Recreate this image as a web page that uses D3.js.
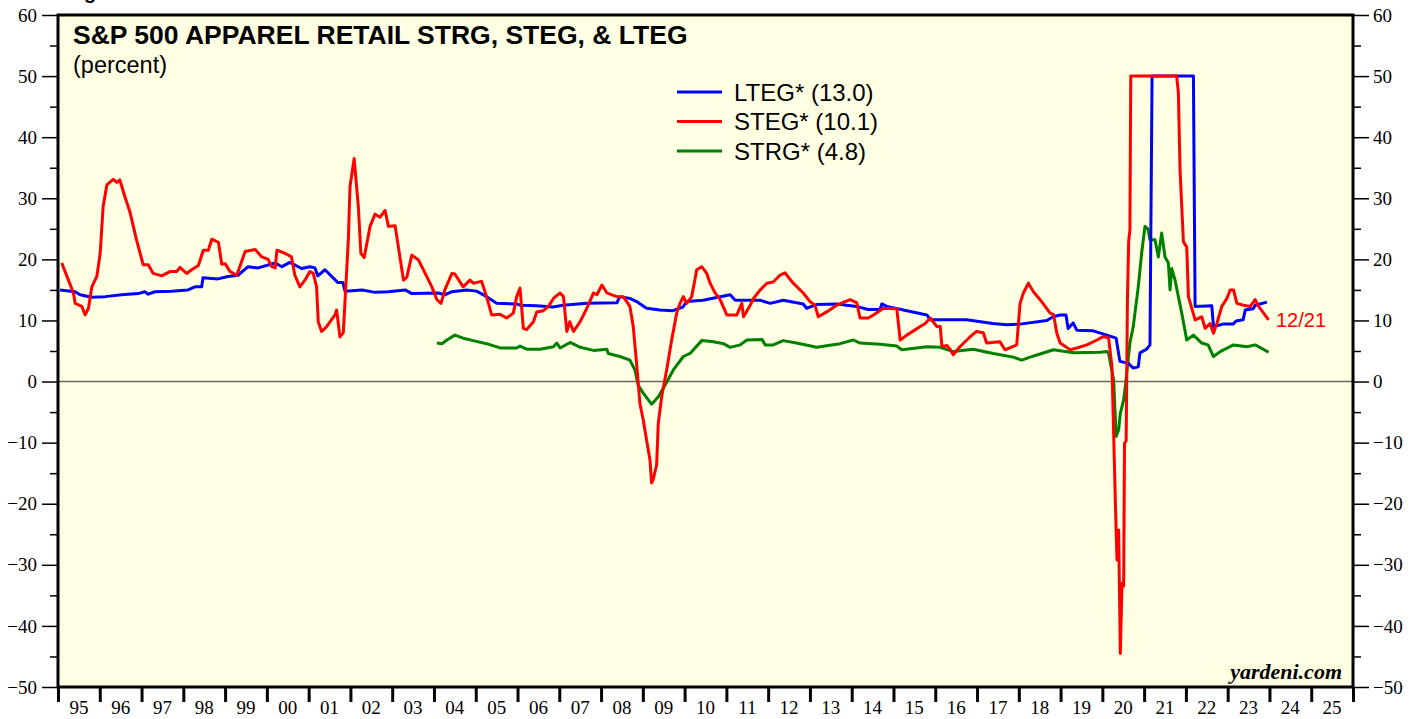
<!DOCTYPE html>
<html>
<head>
<meta charset="utf-8">
<script src="https://cdn.jsdelivr.net/npm/d3@7"></script>
<style>
  body { margin: 0; background: #fff; }
  svg { display: block; }
</style>
</head>
<body>
<svg id="chart" width="1419" height="719"></svg>
<script>
// ---- data (decimal year, percent) ----
const yearLabels = ['95','96','97','98','99','00','01','02','03','04','05','06','07','08','09','10',
  '11','12','13','14','15','16','17','18','19','20','21','22','23','24','25'];

const lteg = [
  [1995.05,15.0],[1995.41,14.7],[1995.53,14.2],[1995.81,13.8],[1996.13,13.9],[1996.52,14.2],
  [1996.92,14.4],[1997.08,14.7],[1997.16,14.3],[1997.32,14.7],[1997.72,14.8],[1998.11,15.0],
  [1998.28,15.5],[1998.44,15.5],[1998.47,17.0],[1998.83,16.8],[1999.07,17.2],[1999.31,17.4],
  [1999.55,18.8],[1999.79,18.6],[2000.20,19.4],[2000.36,18.8],[2000.55,19.5],[2000.83,18.5],
  [2001.03,18.8],[2001.15,18.6],[2001.22,17.3],[2001.39,18.3],[2001.70,16.2],[2001.82,16.2],
  [2001.87,14.8],[2002.28,15.0],[2002.59,14.6],[2002.90,14.7],[2003.31,15.0],[2003.47,14.4],
  [2004.10,14.5],[2004.26,14.2],[2004.43,14.7],[2004.78,15.0],[2005.02,14.8],[2005.26,13.9],
  [2005.50,12.8],[2005.98,12.7],[2006.06,12.5],[2006.46,12.4],[2006.85,12.2],[2007.09,12.5],
  [2007.66,12.8],[2008.38,12.9],[2008.45,13.9],[2008.69,13.6],[2008.85,13.1],[2009.09,12.0],
  [2009.41,11.7],[2009.72,11.6],[2009.96,12.2],[2010.05,13.1],[2010.44,13.3],[2011.09,14.2],
  [2011.21,13.3],[2011.81,13.3],[2012.05,12.8],[2012.36,13.3],[2012.84,12.7],[2012.92,12.0],
  [2013.16,12.6],[2013.64,12.7],[2014.12,12.3],[2014.39,11.8],[2014.68,11.8],[2014.72,12.7],
  [2014.84,12.3],[2015.32,11.6],[2015.80,10.9],[2015.88,10.1],[2016.75,10.1],[2017.38,9.5],
  [2017.71,9.3],[2018.03,9.4],[2018.67,10.0],[2018.82,10.6],[2018.99,10.9],[2019.13,10.9],
  [2019.18,8.7],[2019.30,9.6],[2019.39,8.4],[2019.78,8.3],[2020.11,7.6],[2020.33,7.1],
  [2020.42,3.3],[2020.62,3.0],[2020.74,2.2],[2020.86,2.4],[2020.90,4.7],[2021.06,5.3],
  [2021.14,6.0],[2021.19,50],[2022.18,50],[2022.22,12.3],[2022.62,12.4],[2022.66,9.0],
  [2022.89,9.4],[2023.13,9.4],[2023.20,9.9],[2023.37,10.1],[2023.42,11.7],[2023.61,11.9],
  [2023.66,12.5],[2023.94,13.0]
];

const steg = [
  [1995.09,19.4],[1995.25,16.6],[1995.37,14.5],[1995.41,12.8],[1995.57,12.3],[1995.65,10.9],
  [1995.73,12.0],[1995.81,15.5],[1995.93,17.2],[1996.01,21.0],[1996.08,28.6],[1996.17,32.2],
  [1996.32,33.1],[1996.41,32.6],[1996.48,33.0],[1996.60,30.3],[1996.72,27.8],[1996.88,23.2],
  [1997.04,19.1],[1997.16,19.1],[1997.28,17.7],[1997.48,17.3],[1997.68,18.0],[1997.84,18.0],
  [1997.92,18.7],[1998.08,17.7],[1998.20,18.3],[1998.36,19.0],[1998.48,21.5],[1998.60,21.5],
  [1998.68,23.3],[1998.84,22.8],[1998.92,19.2],[1999.00,19.3],[1999.12,18.0],[1999.28,17.4],
  [1999.48,21.3],[1999.72,21.6],[1999.88,20.4],[2000.03,20.0],[2000.12,18.8],[2000.20,18.6],
  [2000.24,21.5],[2000.43,21.0],[2000.59,20.4],[2000.67,17.4],[2000.79,15.5],[2000.91,16.6],
  [2001.03,18.0],[2001.11,17.7],[2001.19,15.5],[2001.23,9.8],[2001.31,8.2],[2001.43,9.0],
  [2001.63,10.9],[2001.67,11.7],[2001.75,7.3],[2001.83,8.0],[2001.95,23.2],[2001.99,31.9],
  [2002.09,36.5],[2002.19,28.6],[2002.25,21.0],[2002.33,20.3],[2002.47,25.4],[2002.59,27.4],
  [2002.71,26.9],[2002.83,28.0],[2002.91,25.4],[2003.07,25.5],[2003.27,16.6],[2003.35,17.1],
  [2003.47,20.7],[2003.63,19.9],[2003.79,17.7],[2003.95,15.5],[2004.07,13.4],[2004.17,12.8],
  [2004.26,15.0],[2004.43,17.7],[2004.50,17.6],[2004.70,15.5],[2004.86,16.6],[2004.94,16.1],
  [2005.14,16.4],[2005.26,13.9],[2005.38,10.9],[2005.58,11.0],[2005.74,10.4],[2005.90,11.2],
  [2005.98,13.9],[2006.06,15.3],[2006.14,8.7],[2006.22,8.5],[2006.38,9.8],[2006.46,11.4],
  [2006.62,11.6],[2006.74,12.3],[2006.86,13.6],[2007.02,14.5],[2007.10,13.9],[2007.18,8.2],
  [2007.25,9.8],[2007.34,8.2],[2007.50,9.8],[2007.66,12.0],[2007.82,14.5],[2007.90,14.2],
  [2008.02,15.8],[2008.14,14.5],[2008.26,14.2],[2008.38,13.9],[2008.53,13.9],[2008.69,12.3],
  [2008.77,9.0],[2008.85,3.0],[2008.93,-3.6],[2009.01,-6.3],[2009.09,-9.6],[2009.17,-12.8],
  [2009.21,-16.6],[2009.25,-16.0],[2009.33,-13.6],[2009.37,-6.8],[2009.45,-2.5],[2009.57,1.9],
  [2009.69,6.8],[2009.81,11.2],[2009.89,12.8],[2009.97,13.9],[2010.05,12.8],[2010.17,13.9],
  [2010.29,18.3],[2010.41,18.8],[2010.53,17.7],[2010.61,16.1],[2010.73,14.5],[2010.85,13.4],
  [2011.01,10.9],[2011.25,10.9],[2011.37,12.8],[2011.41,10.6],[2011.57,12.5],[2011.65,13.6],
  [2011.81,15.0],[2011.97,16.1],[2012.12,16.3],[2012.28,17.4],[2012.40,17.8],[2012.60,16.1],
  [2012.84,14.5],[2013.00,13.1],[2013.12,12.5],[2013.20,10.6],[2013.40,11.4],[2013.64,12.5],
  [2013.96,13.4],[2014.12,12.9],[2014.20,10.4],[2014.40,10.4],[2014.52,10.9],[2014.76,12.0],
  [2015.08,11.9],[2015.16,6.8],[2015.32,7.6],[2015.64,9.0],[2015.76,9.5],[2015.88,10.4],
  [2016.04,9.0],[2016.12,9.0],[2016.16,5.7],[2016.28,5.9],[2016.36,5.2],[2016.43,4.4],
  [2016.59,5.7],[2016.83,7.3],[2016.99,8.2],[2017.15,8.0],[2017.23,6.3],[2017.55,6.5],
  [2017.67,5.2],[2017.95,6.0],[2018.03,12.8],[2018.11,14.5],[2018.23,16.1],[2018.35,14.7],
  [2018.51,13.4],[2018.75,11.2],[2018.83,11.0],[2018.91,7.9],[2018.99,6.3],[2019.23,5.2],
  [2019.39,5.5],[2019.63,6.0],[2019.87,6.8],[2020.03,7.4],[2020.15,7.1],[2020.23,2.4],
  [2020.27,-8.5],[2020.31,-19.4],[2020.35,-29.2],[2020.39,-24.3],[2020.43,-44.5],[2020.47,-33.0],
  [2020.51,-33.5],[2020.53,-10.1],[2020.57,-9.7],[2020.60,13.4],[2020.63,23.0],[2020.66,24.8],
  [2020.68,50],[2021.78,50],[2021.82,47.2],[2021.86,34.6],[2021.94,22.9],[2022.02,22.0],
  [2022.06,13.9],[2022.22,10.1],[2022.38,10.6],[2022.46,8.7],[2022.58,9.5],[2022.66,7.9],
  [2022.74,9.5],[2022.86,12.3],[2022.98,13.6],[2023.06,15.0],[2023.14,15.0],[2023.22,12.8],
  [2023.38,12.5],[2023.54,12.3],[2023.66,13.4],[2023.74,12.3],[2023.86,11.2],[2023.98,10.1]
];

const strg = [
  [2004.07,6.3],[2004.19,6.2],[2004.31,6.8],[2004.50,7.6],[2004.70,7.1],[2004.94,6.7],
  [2005.26,6.2],[2005.58,5.5],[2005.98,5.5],[2006.06,5.8],[2006.22,5.3],[2006.54,5.3],
  [2006.86,5.7],[2006.94,6.3],[2007.02,5.5],[2007.26,6.4],[2007.50,5.6],[2007.82,5.1],
  [2008.14,5.3],[2008.17,4.6],[2008.45,4.1],[2008.69,3.5],[2008.81,1.9],[2008.89,-0.6],
  [2009.01,-1.9],[2009.21,-3.7],[2009.37,-2.5],[2009.53,-0.6],[2009.73,1.9],[2009.97,4.1],
  [2010.13,4.6],[2010.41,6.7],[2010.69,6.5],[2010.93,6.2],[2011.09,5.6],[2011.33,6.0],
  [2011.49,6.8],[2011.85,6.9],[2011.93,6.0],[2012.12,6.0],[2012.36,6.7],[2012.68,6.3],
  [2013.16,5.6],[2013.72,6.2],[2014.04,6.8],[2014.20,6.3],[2014.68,6.1],[2015.08,5.8],
  [2015.20,5.2],[2015.80,5.7],[2016.12,5.6],[2016.43,4.9],[2016.91,5.3],[2017.39,4.6],
  [2017.87,4.0],[2018.07,3.5],[2018.27,4.0],[2018.51,4.5],[2018.83,5.2],[2019.31,4.7],
  [2019.95,4.8],[2020.11,4.9],[2020.15,4.6],[2020.27,0.3],[2020.33,-9.0],[2020.39,-7.9],
  [2020.43,-5.2],[2020.51,-3.0],[2020.55,-0.8],[2020.66,6.3],[2020.74,9.0],[2020.86,15.5],
  [2020.94,21.0],[2021.02,25.4],[2021.09,25.0],[2021.14,23.2],[2021.26,23.2],[2021.34,20.4],
  [2021.42,24.3],[2021.50,20.4],[2021.58,19.4],[2021.62,15.0],[2021.66,18.5],[2021.74,16.6],
  [2021.82,13.9],[2021.90,11.2],[2022.02,6.8],[2022.18,7.6],[2022.38,6.3],[2022.53,6.0],
  [2022.66,4.1],[2022.82,4.9],[2023.14,6.0],[2023.46,5.7],[2023.66,6.0],[2023.98,4.8]
];

const legendItems = [
  { label: 'LTEG* (13.0)', color: '#0000ff' },
  { label: 'STEG* (10.1)', color: '#ff0000' },
  { label: 'STRG* (4.8)', color: '#008000' }
];

// ---- layout ----
const plotL = 58, plotR = 1353, plotT = 15, plotB = 687;
const svg = d3.select('#chart');

const x = d3.scaleLinear().domain([1995, 2026]).range([plotL, plotR]);
const y = d3.scaleLinear().domain([-50, 60]).range([plotB, plotT]);

// cut-off heading above the frame (only its descender shows, as in the source)
svg.append('text').attr('x', 84).attr('y', -1)
    .style('font', 'bold 20px "Liberation Sans", Arial, sans-serif').text('g');

svg.append('rect')
    .attr('x', plotL).attr('y', plotT)
    .attr('width', plotR - plotL).attr('height', plotB - plotT)
    .attr('fill', '#ffffe3');

svg.append('clipPath').attr('id', 'plot')
  .append('rect').attr('x', plotL).attr('y', plotT)
    .attr('width', plotR - plotL).attr('height', plotB - plotT);

// zero line
svg.append('line')
    .attr('x1', plotL).attr('x2', plotR)
    .attr('y1', y(0)).attr('y2', y(0))
    .attr('stroke', '#666').attr('stroke-width', 1.5);

// series
const line = d3.line().x(d => x(d[0])).y(d => y(d[1]));
const g = svg.append('g').attr('clip-path', 'url(#plot)');
[[strg, '#008000'], [lteg, '#0000ff'], [steg, '#ff0000']].forEach(([data, col]) => {
  g.append('path').datum(data)
      .attr('d', line)
      .attr('fill', 'none')
      .attr('stroke', col)
      .attr('stroke-width', 3)
      .attr('stroke-linejoin', 'round');
});

// frame
svg.append('rect')
    .attr('x', plotL).attr('y', plotT)
    .attr('width', plotR - plotL).attr('height', plotB - plotT)
    .attr('fill', 'none').attr('stroke', '#000').attr('stroke-width', 3);

// y axes
const serif = '"Liberation Serif", "Times New Roman", serif';
const yMajor = d3.range(-50, 61, 10);
const yMinor = d3.range(-45, 60, 10);

const yLeft = svg.append('g').attr('transform', `translate(${plotL},0)`)
    .call(d3.axisLeft(y).tickValues(yMajor).tickSize(16).tickPadding(5));
const yRight = svg.append('g').attr('transform', `translate(${plotR},0)`)
    .call(d3.axisRight(y).tickValues(yMajor).tickSize(16).tickPadding(4));
[yLeft, yRight].forEach(a => {
  a.select('.domain').remove();
  a.selectAll('line').attr('stroke-width', 1.5);
  a.selectAll('text').style('font', `19px ${serif}`).attr('fill', '#000');
});
svg.append('g').attr('transform', `translate(${plotL},0)`)
    .call(d3.axisLeft(y).tickValues(yMinor).tickSize(8).tickFormat(''))
    .call(a => a.select('.domain').remove())
    .selectAll('line').attr('stroke-width', 1.5);
svg.append('g').attr('transform', `translate(${plotR},0)`)
    .call(d3.axisRight(y).tickValues(yMinor).tickSize(8).tickFormat(''))
    .call(a => a.select('.domain').remove())
    .selectAll('line').attr('stroke-width', 1.5);

// x axis: ticks at year starts, labels mid-year
const xAxis = svg.append('g').attr('transform', `translate(0,${plotB})`)
    .call(d3.axisBottom(x).tickValues(d3.range(1995, 2027)).tickSize(15).tickFormat(''));
xAxis.select('.domain').remove();
xAxis.selectAll('line').attr('stroke-width', 3);

svg.append('g').selectAll('text')
    .data(yearLabels)
    .join('text')
    .attr('x', (d, i) => x(1995.5 + i))
    .attr('y', 714)
    .attr('text-anchor', 'middle')
    .style('font', `19px ${serif}`)
    .text(d => d);

// titles
const sans = '"Liberation Sans", Arial, sans-serif';
svg.append('text').attr('x', 73).attr('y', 44)
    .style('font', `bold 26.5px ${sans}`)
    .text('S&P 500 APPAREL RETAIL STRG, STEG, & LTEG');
svg.append('text').attr('x', 73).attr('y', 73)
    .style('font', `23.5px ${sans}`)
    .text('(percent)');

// legend
const leg = svg.append('g').selectAll('g')
    .data(legendItems)
    .join('g')
    .attr('transform', (d, i) => `translate(677,${92 + i * 29.5})`);
leg.append('line').attr('x1', 0).attr('x2', 45)
    .attr('stroke', d => d.color).attr('stroke-width', 3);
leg.append('text').attr('x', 57).attr('y', 8.5)
    .style('font', `24px ${sans}`)
    .text(d => d.label);

// end label
svg.append('text').attr('x', 1276).attr('y', 327)
    .attr('fill', '#ff0000')
    .style('font', `20px ${sans}`)
    .text('12/21');

// source
svg.append('text').attr('x', 1342).attr('y', 679)
    .attr('text-anchor', 'end')
    .style('font', `italic bold 22px ${serif}`)
    .text('yardeni.com');
</script>
</body>
</html>
